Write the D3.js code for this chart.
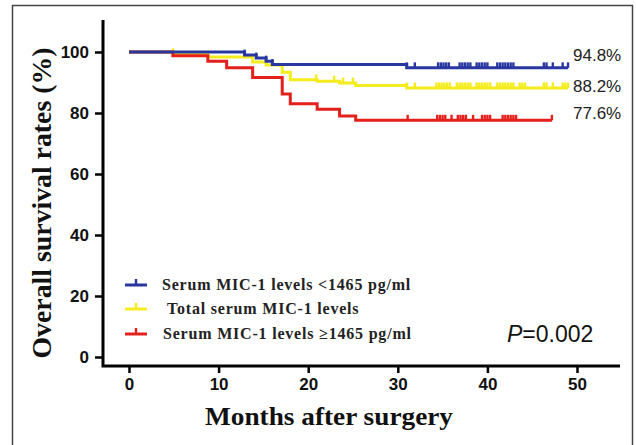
<!DOCTYPE html>
<html>
<head>
<meta charset="utf-8">
<script src="https://cdn.jsdelivr.net/npm/d3@7"></script>
<style>
  body { margin: 0; background: #fff; }
  svg { display: block; }
</style>
</head>
<body>
<div id="chart"></div>
<script>
// axis ticks
var monthTicks = [0, 10, 20, 30, 40, 50];
var rateTicks = [0, 20, 40, 60, 80, 100];

// Serum MIC-1 < 1465 pg/ml (blue)
var lowTimes = [0, 12.9, 14.2, 15.3, 16.0, 31.0, 49.0];
var lowSurv = [100, 99.0, 98.0, 97.0, 95.9, 94.8, 94.8];
var lowCensor = [12.9, 14.2, 15.3, 16.0, 31.0, 31.9,
  34.5, 34.8, 35.1, 35.4, 35.7, 36.9, 37.2, 37.5, 37.8, 38.1,
  38.8, 39.1, 39.4, 39.7, 40.0, 41.1, 41.4, 41.7, 42.0, 42.3, 42.6, 42.9,
  46.3, 46.6, 47.3, 48.4, 49.0];

// total serum MIC-1 (yellow)
var totalTimes = [0, 4.9, 8.8, 13.8, 15.3, 17.1, 18.0, 21.0, 23.5, 25.3, 31.0, 49.0];
var totalSurv = [100, 99.4, 98.4, 96.7, 95.7, 93.4, 90.9, 90.4, 89.8, 89.0, 88.2, 88.2];
var totalCensor = [4.9, 8.8, 20.9, 22.9, 23.9, 25.0, 31.0, 31.9,
  34.3, 34.6, 34.9, 35.2, 35.5, 35.8, 36.6, 36.9, 37.2, 37.5, 37.8, 38.1,
  38.8, 39.1, 39.4, 39.7, 40.0, 40.3, 41.1, 41.4, 41.7, 42.0, 42.3, 42.6, 42.9,
  43.6, 43.9, 44.2, 46.3, 46.6, 47.3, 48.4, 48.7, 49.0];

// Serum MIC-1 >= 1465 pg/ml (red)
var highTimes = [0, 4.9, 8.8, 10.9, 13.8, 17.1, 18.0, 21.0, 23.5, 25.3, 47.2];
var highSurv = [100, 98.8, 97.0, 94.8, 91.6, 86.2, 83.0, 81.2, 79.0, 77.6, 77.6];
var highCensor = [31.1, 34.4, 34.7, 35.0, 35.3, 36.0, 36.7, 37.0, 37.3, 37.6, 38.4,
  39.4, 39.7, 40.0, 40.3, 41.7, 42.0, 42.3, 42.6, 42.9, 43.2, 47.2];

var legendLabels = ["Serum MIC-1 levels <1465 pg/ml", "Total serum MIC-1 levels", "Serum MIC-1 levels \u22651465 pg/ml"];
var endLabels = ["94.8%", "88.2%", "77.6%"];

var width = 636, height = 445;

var svg = d3.select('#chart').append('svg')
  .attr('width', width)
  .attr('height', height);

// outer frame
svg.append('path')
  .attr('d', 'M12.5,450 V5.5 H632.5 V450')
  .attr('fill', 'none')
  .attr('stroke', '#444')
  .attr('stroke-width', 1.5);

var x = d3.scaleLinear().domain([0, 50]).range([129, 577]);
var y = d3.scaleLinear().domain([0, 100]).range([357, 52]);

var axisLeftX = 103, axisBottomY = 366;

// y axis
var yAxis = svg.append('g')
  .attr('transform', 'translate(' + axisLeftX + ',0)')
  .call(d3.axisLeft(y).tickValues(rateTicks).tickSize(8).tickPadding(6));
yAxis.select('.domain').remove();
yAxis.selectAll('line').attr('stroke', '#000').attr('stroke-width', 2.5);
yAxis.selectAll('text')
  .attr('font-family', 'Liberation Sans, Arial, sans-serif')
  .attr('font-weight', 'bold')
  .attr('font-size', 17)
  .attr('fill', '#111');

// x axis
var xAxis = svg.append('g')
  .attr('transform', 'translate(0,' + axisBottomY + ')')
  .call(d3.axisBottom(x).tickValues(monthTicks).tickSize(7).tickPadding(5));
xAxis.select('.domain').remove();
xAxis.selectAll('line').attr('stroke', '#000').attr('stroke-width', 2.5);
xAxis.selectAll('text')
  .attr('font-family', 'Liberation Sans, Arial, sans-serif')
  .attr('font-weight', 'bold')
  .attr('font-size', 17)
  .attr('fill', '#111');

// axis lines
svg.append('path')
  .attr('d', 'M' + axisLeftX + ',20 V' + axisBottomY + ' H620')
  .attr('fill', 'none')
  .attr('stroke', '#000')
  .attr('stroke-width', 3);

// axis titles
svg.append('text')
  .attr('transform', 'translate(51,203) rotate(-90)')
  .attr('text-anchor', 'middle')
  .attr('font-family', 'Liberation Serif, Times New Roman, serif')
  .attr('font-weight', 'bold')
  .attr('font-size', 27)
  .attr('fill', '#111')
  .attr('textLength', 311)
  .attr('lengthAdjust', 'spacingAndGlyphs')
  .text('Overall survival rates (%)');

svg.append('text')
  .attr('x', 329)
  .attr('y', 425)
  .attr('text-anchor', 'middle')
  .attr('font-family', 'Liberation Serif, Times New Roman, serif')
  .attr('font-weight', 'bold')
  .attr('font-size', 26)
  .attr('fill', '#111')
  .attr('textLength', 248)
  .attr('lengthAdjust', 'spacingAndGlyphs')
  .text('Months after surgery');

// survival curves
var groups = [
  { times: totalTimes, surv: totalSurv, censor: totalCensor, color: '#f4ec1c' },
  { times: highTimes, surv: highSurv, censor: highCensor, color: '#e3201b' },
  { times: lowTimes, surv: lowSurv, censor: lowCensor, color: '#2837a0' }
];

var survAt = function(g, t) {
  var v = g.surv[0];
  for (var i = 0; i < g.times.length; i++) {
    if (g.times[i] <= t) v = g.surv[i];
  }
  return v;
};

var stepLine = d3.line()
  .x(function(d) { return x(d[0]); })
  .y(function(d) { return y(d[1]); })
  .curve(d3.curveStepAfter);

groups.forEach(function(g) {
  var pts = g.times.map(function(t, i) { return [t, g.surv[i]]; });
  svg.append('path')
    .attr('d', stepLine(pts))
    .attr('fill', 'none')
    .attr('stroke', g.color)
    .attr('stroke-width', 3);

  svg.selectAll(null)
    .data(g.censor)
    .enter().append('line')
    .attr('x1', function(d) { return x(d); })
    .attr('x2', function(d) { return x(d); })
    .attr('y1', function(d) { return y(survAt(g, d)); })
    .attr('y2', function(d) { return y(survAt(g, d)) - 5.5; })
    .attr('stroke', g.color)
    .attr('stroke-width', 2.4);
});

// end labels
var endY = [55, 86, 113];
svg.selectAll('.endlab')
  .data(endLabels)
  .enter().append('text')
  .attr('class', 'endlab')
  .attr('x', 573)
  .attr('y', function(d, i) { return endY[i] + 6; })
  .attr('font-family', 'Liberation Sans, Arial, sans-serif')
  .attr('font-size', 17)
  .attr('fill', '#222')
  .text(function(d) { return d; });

// legend
var legendColors = ['#2837a0', '#f4ec1c', '#e3201b'];
var legendY = [285, 309, 334];
var legendTextX = [162, 167, 163];
var leg = svg.selectAll('.leg')
  .data(legendLabels)
  .enter().append('g')
  .attr('class', 'leg')
  .attr('transform', function(d, i) { return 'translate(0,' + legendY[i] + ')'; });
leg.append('line')
  .attr('x1', 125).attr('x2', 147).attr('y1', 0).attr('y2', 0)
  .attr('stroke', function(d, i) { return legendColors[i]; })
  .attr('stroke-width', 3);
leg.append('line')
  .attr('x1', 136).attr('x2', 136).attr('y1', 0).attr('y2', -6)
  .attr('stroke', function(d, i) { return legendColors[i]; })
  .attr('stroke-width', 2.4);
leg.append('text')
  .attr('x', function(d, i) { return legendTextX[i]; })
  .attr('y', 5)
  .attr('font-family', 'Liberation Serif, Times New Roman, serif')
  .attr('font-weight', 'bold')
  .attr('font-size', 16)
  .attr('letter-spacing', 0.8)
  .attr('fill', '#222')
  .text(function(d) { return d; });

// p value
var pText = svg.append('text')
  .attr('x', 507)
  .attr('y', 342)
  .attr('font-family', 'Liberation Sans, Arial, sans-serif')
  .attr('font-size', 23)
  .attr('fill', '#111');
pText.append('tspan').attr('font-style', 'italic').text('P');
pText.append('tspan').text('=0.002');
</script>
</body>
</html>
